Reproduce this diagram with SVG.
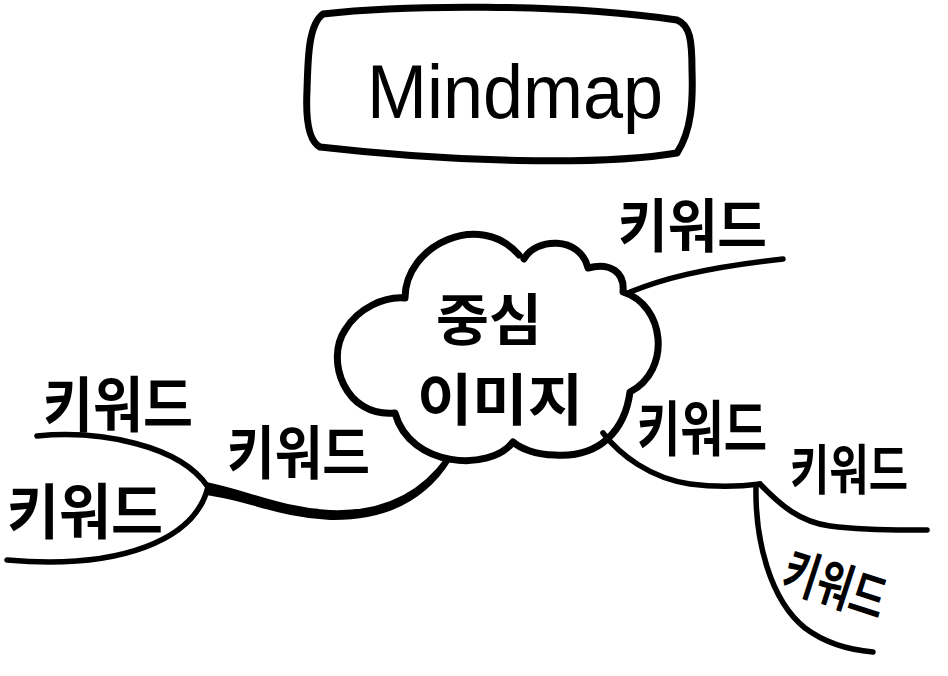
<svg xmlns="http://www.w3.org/2000/svg" width="948" height="676" viewBox="0 0 948 676">
<style>
.ln{fill:none;stroke:#000;stroke-width:5.5;stroke-linecap:round;stroke-linejoin:round}
.ol{fill:none;stroke:#000;stroke-width:7;stroke-linecap:round;stroke-linejoin:round}
.kw{font-family:"Noto Sans CJK KR",sans-serif;font-weight:700;fill:#000}
.en{font-family:"Liberation Sans",sans-serif;fill:#000}
</style>
<rect width="948" height="676" fill="#fff"/>
<g id="title">
<path class="ol" d="M323,14 C400,5 560,3 677,20 C690,25 692,40 692,70 C693,100 692,130 677,153 C600,166 450,162 320,147 C306,140 306,110 307,90 C308,60 308,25 323,14 Z"/>
<text class="en" x="367" y="118" font-size="76" textLength="296" lengthAdjust="spacingAndGlyphs">Mindmap</text>
</g>
<g id="center">
<path class="ol" d="M405,298 C405,245 480,210 519,255 M524,259 C535,238 580,235 588,268 C610,262 625,272 623,292 C665,305 672,370 630,392 C625,430 600,458 555,455 C535,455 520,448 513,442 C490,472 410,468 395,413 C345,418 325,360 345,330 C358,308 385,296 405,298"/>
<text class="kw" x="436" y="340" font-size="56" textLength="106" lengthAdjust="spacingAndGlyphs">중심</text>
<text class="kw" x="417" y="420" font-size="56" textLength="166" lengthAdjust="spacingAndGlyphs">이미지</text>
</g>
<g id="connectors">
<path class="ln" d="M630,292 C660,280 700,268 783,259"/>
<path class="ln" d="M37,436 C100,430 180,445 208,487"/>
<path class="ln" d="M208,487 C195,540 120,570 7,560"/>
<path fill="#000" stroke="#000" stroke-width="2" stroke-linejoin="round" d="M206,483 C250,492 280,508 330,511 C380,513 420,495 447,457 L450,460 C425,500 385,520 330,519 C280,517 250,500 206,494 Z"/>
<path class="ln" d="M603,433 C620,455 650,478 690,484 C720,488 745,486 760,484"/>
<path class="ln" d="M760,484 C780,505 800,522 830,526 C870,531 900,530 927,530"/>
<path class="ln" d="M756,487 C755,540 770,600 805,628 C825,643 850,650 873,652"/>
</g>
<g id="kw1"><text class="kw" x="618" y="247" font-size="58" textLength="149" lengthAdjust="spacingAndGlyphs">키워드</text></g>
<g id="kw2"><text class="kw" x="43" y="427" font-size="60" textLength="150" lengthAdjust="spacingAndGlyphs">키워드</text></g>
<g id="kw3"><text class="kw" x="7" y="534" font-size="60" textLength="156" lengthAdjust="spacingAndGlyphs">키워드</text></g>
<g id="kw4"><text class="kw" x="227" y="474" font-size="58" textLength="143" lengthAdjust="spacingAndGlyphs">키워드</text></g>
<g id="kw5"><text class="kw" x="637" y="451" font-size="60" textLength="130" lengthAdjust="spacingAndGlyphs">키워드</text></g>
<g id="kw6"><text class="kw" x="790" y="490" font-size="54" textLength="118" lengthAdjust="spacingAndGlyphs">키워드</text></g>
<g id="kw7"><text class="kw" transform="translate(835,585) rotate(18)" x="0" y="19" font-size="52" text-anchor="middle" textLength="105" lengthAdjust="spacingAndGlyphs">키워드</text></g>
</svg>
